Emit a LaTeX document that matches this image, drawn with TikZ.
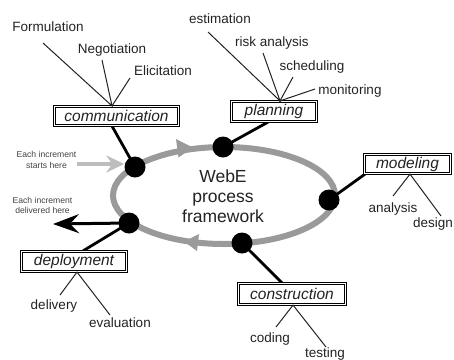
\documentclass[tikz,border=0pt]{standalone}
\usepackage{fontspec}
\setmainfont{Liberation Sans}
\usetikzlibrary{arrows.meta,backgrounds}
\definecolor{ring}{HTML}{9A9A9A}
\definecolor{ink}{HTML}{222222}
\definecolor{startgray}{HTML}{BDBDBD}
\begin{document}
\begin{tikzpicture}[x=1pt,y=-1pt,
  phase/.style={draw=black, line width=1.2pt, double=white, double distance=0.9pt, inner sep=0pt,
    font=\fontsize{15.5}{17}\selectfont\itshape, text=ink},
  lab/.style={inner sep=0pt, font=\fontsize{13.5}{15}\selectfont, text=ink},
  note/.style={inner sep=0pt, align=center, font=\fontsize{8.6}{10.5}\selectfont, text=ink!85},
  dot/.style={circle, fill=black, inner sep=0pt, minimum size=21pt},
  link/.style={line width=2.8pt, black},
  twig/.style={line width=1pt, ink}]
\clip (0,0) rectangle (454,359);

% dots on the cycle
\node[dot] (dcomm) at (135,167) {};
\node[dot] (dplan) at (223,147) {};
\node[dot] (dmod)  at (329,200) {};
\node[dot] (dcons) at (242,243) {};
\node[dot] (ddep)  at (129,223) {};

% phase boxes
\node[phase, minimum width=124pt, minimum height=19pt] (comm)  at (116.5,116)  {communication};
\node[phase, minimum width=85pt,  minimum height=20pt] (plan)  at (274,111.5)  {planning};
\node[phase, minimum width=86pt,  minimum height=19pt] (model) at (407.5,164)  {modeling};
\node[phase, minimum width=105pt, minimum height=20pt] (dep)   at (74,261.5)   {deployment};
\node[phase, minimum width=107pt, minimum height=21pt] (cons)  at (292,294)    {construction};

% centre text
\node[align=center, inner sep=0pt, font=\fontsize{17.5}{20}\selectfont, text=ink] (title) at (223,196) {WebE\\process\\framework};

\begin{scope}[on background layer]
  \draw[ring, line width=6pt] (224,195.5) ellipse [x radius=111pt, y radius=48.5pt];
  \fill[ring] (193,147.5) -- (178.5,157.5) -- (176,139) -- cycle;
  \fill[ring] (184,241.5) -- (199,234) -- (197,251) -- cycle;
  \draw[link] ([xshift=-4.5pt]comm.south) -- (dcomm.center);
  \draw[link] ([xshift=-6pt]plan.south) -- (dplan.center);
  \draw[link] ([xshift=-42.5pt]model.south) -- (dmod.center);
  \draw[link] ([xshift=9pt]dep.north) -- (ddep.center);
  \draw[link] ([xshift=-10pt]cons.north) -- (dcons.center);
\end{scope}

% task labels
\node[lab] (form)  at (48,27)   {Formulation};
\node[lab] (nego)  at (112,50)  {Negotiation};
\node[lab] (elic)  at (163,71)  {Elicitation};
\node[lab] (esti)  at (220,19)  {estimation};
\node[lab] (risk)  at (272,43)  {risk analysis};
\node[lab] (sched) at (312,67)  {scheduling};
\node[lab] (moni)  at (350,91)  {monitoring};
\node[lab] (anal)  at (393,209) {analysis};
\node[lab, anchor=east] (desi) at (453,224) {design};
\node[lab] (codi)  at (270,339) {coding};
\node[lab] (test)  at (325,354) {testing};
\node[lab] (deli)  at (54,306)  {delivery};
\node[lab] (eval)  at (120,323) {evaluation};

% twig end points
\coordinate (eform)  at (43,43);
\coordinate (enego)  at (102,60);
\coordinate (eelic)  at (130,78);
\coordinate (eesti)  at (208,32);
\coordinate (erisk)  at (263,53);
\coordinate (esched) at (293,77);
\coordinate (emoni)  at (315,89);
\coordinate (eanal)  at (393,196);
\coordinate (edesi)  at (441,216);
\coordinate (ecodi)  at (276,327);
\coordinate (etest)  at (326,347);
\coordinate (edeli)  at (60,295);
\coordinate (eeval)  at (110,315);

\draw[twig] (eform) -- ([xshift=-4.5pt]comm.north) -- (enego);
\draw[twig] ([xshift=-4.5pt]comm.north) -- (eelic);
\draw[twig] (eesti) -- ([xshift=6pt]plan.north) -- (erisk);
\draw[twig] (esched) -- ([xshift=6pt]plan.north) -- (emoni);
\draw[twig] (eanal) -- ([xshift=2.5pt]model.south) -- (edesi);
\draw[twig] (ecodi) -- ([xshift=1pt]cons.south) -- (etest);
\draw[twig] (edeli) -- ([xshift=3pt]dep.south) -- (eeval);

% increment notes and arrows
\node[note] (startnote) at (46.5,160) {Each increment\\starts here};
\node[note] (delnote)   at (42.5,205.5) {Each increment\\delivered here};
\coordinate (sarr) at (77,164);
\coordinate (darr) at (53,224);
\draw[startgray, line width=3.2pt, -{Stealth[length=18pt,width=17pt,inset=6pt]}] (sarr) -- (sarr -| dcomm.west);
\begin{scope}[on background layer]
  \draw[black, line width=3pt, -{Stealth[length=26pt,width=19pt,inset=9pt]}] (ddep.center) -- (darr);
\end{scope}
\end{tikzpicture}
\end{document}
